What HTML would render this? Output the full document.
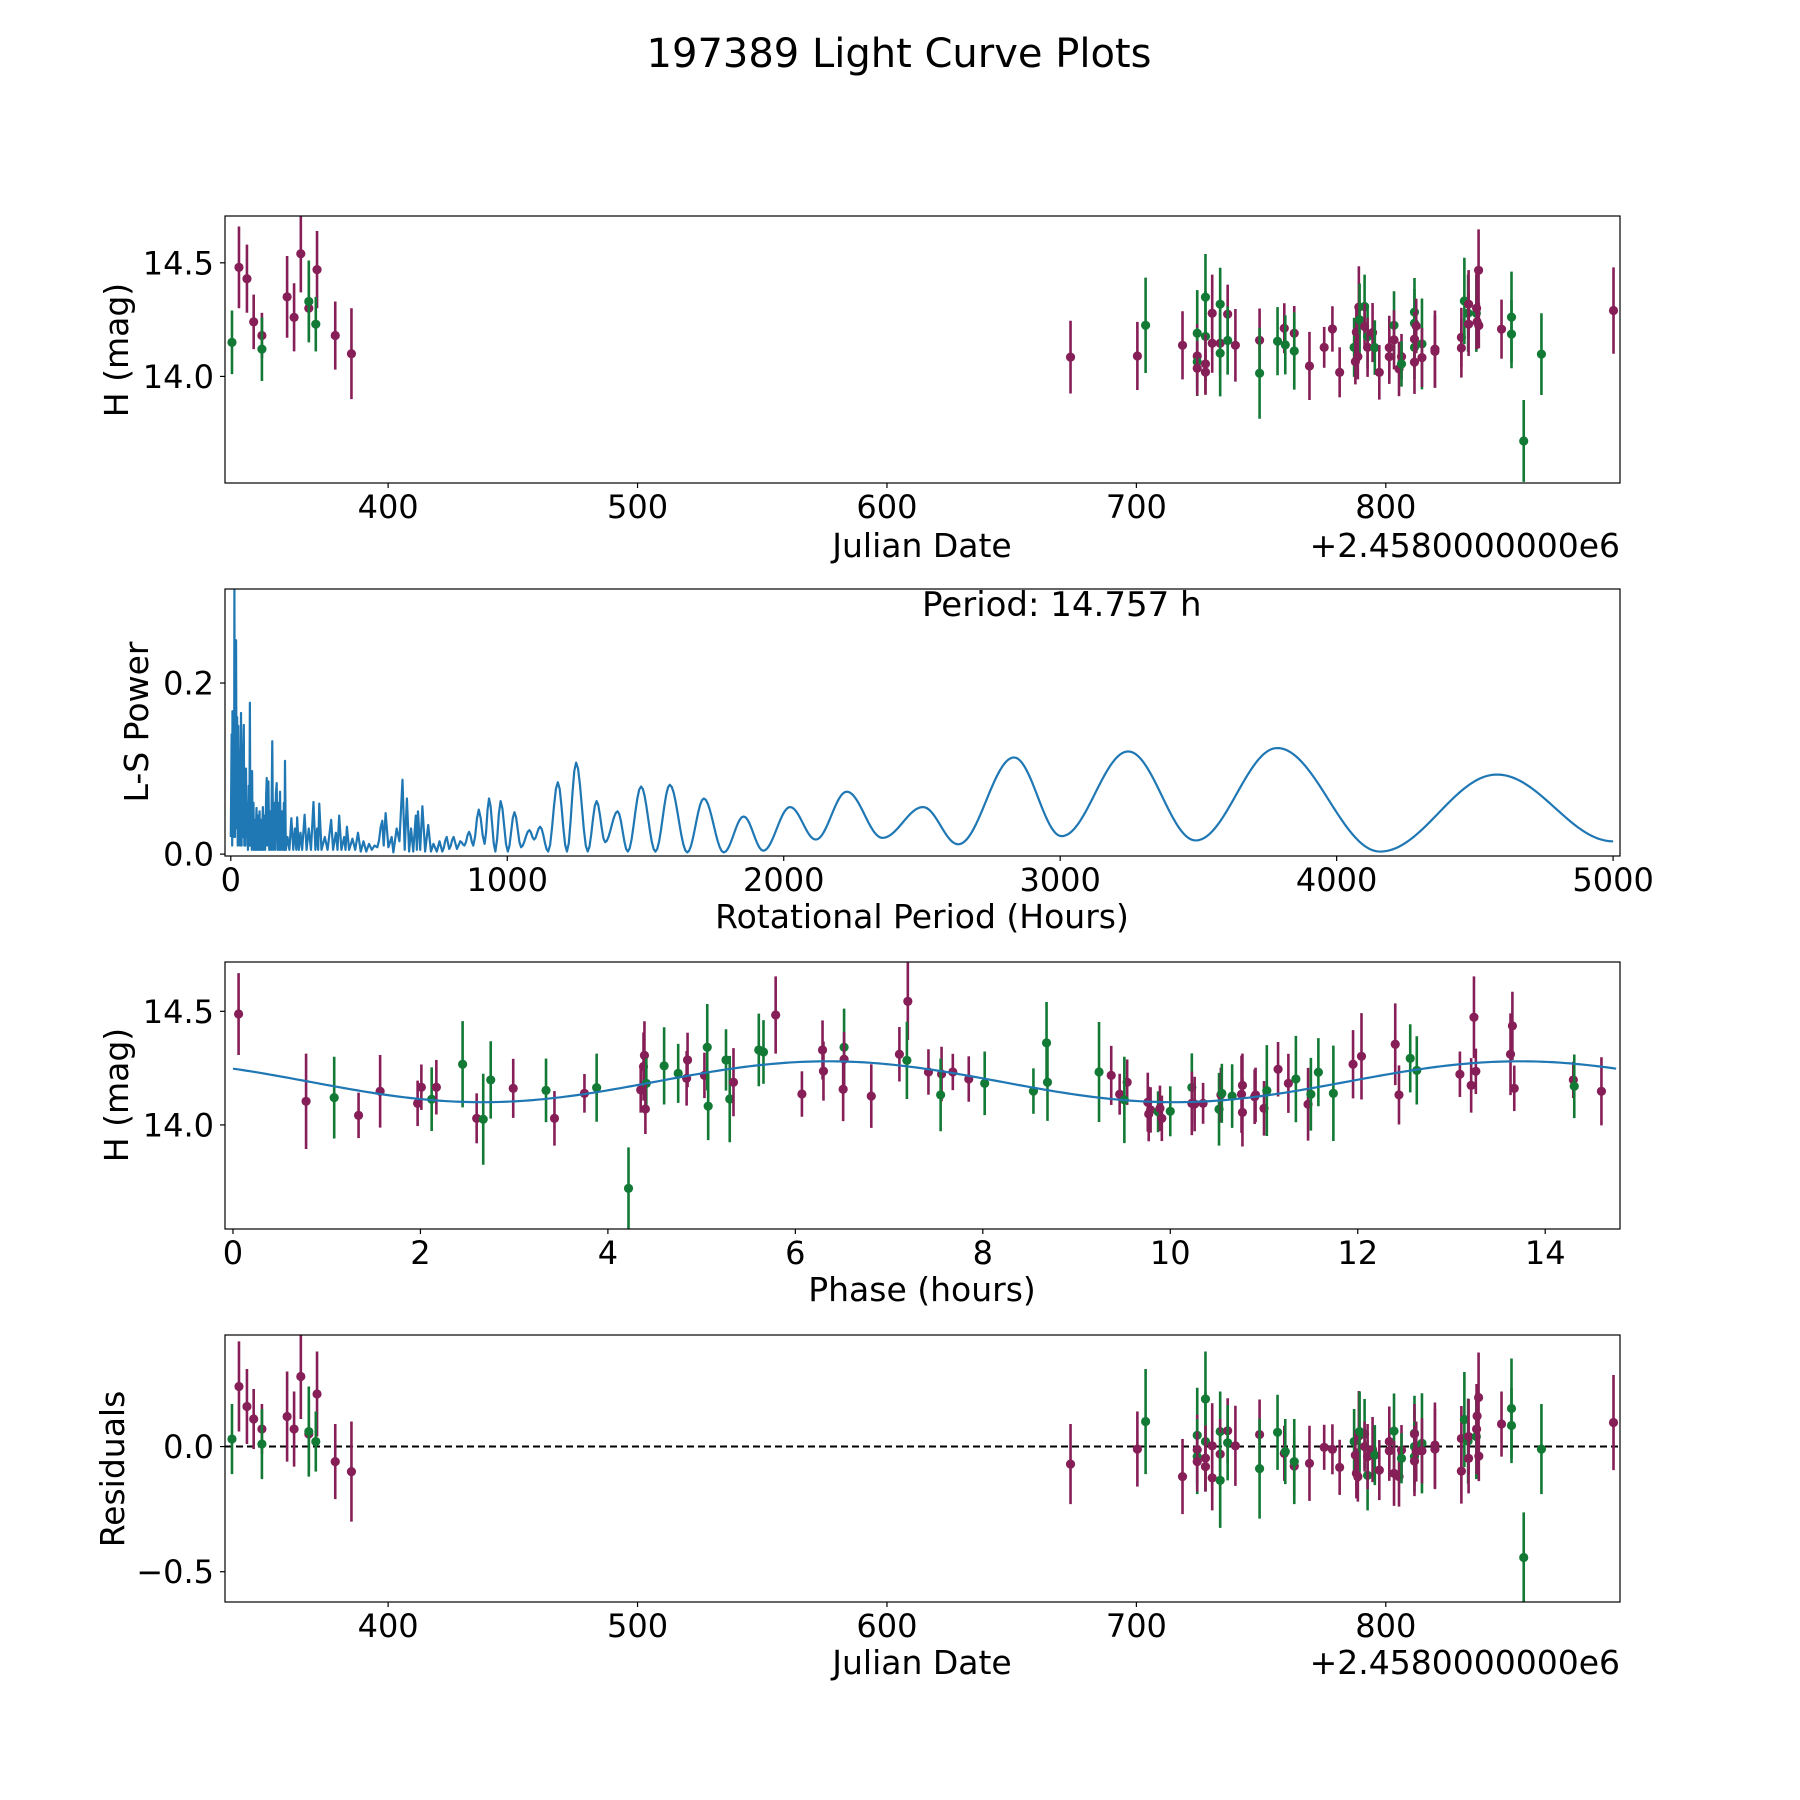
<!DOCTYPE html>
<html><head><meta charset="utf-8"><style>
html,body{margin:0;padding:0;background:#fff;}
svg{display:block;font-family:"DejaVu Sans","Liberation Sans",sans-serif;}
</style></head><body>
<svg id="fig" width="1800" height="1800" viewBox="0 0 1800 1800">
<rect x="0" y="0" width="1800" height="1800" fill="#fff"/>
<text x="899" y="67" font-size="40" text-anchor="middle">197389 Light Curve Plots</text>
<text x="922" y="557" font-size="33" text-anchor="middle">Julian Date</text>
<text x="1620" y="557" font-size="33" text-anchor="end">+2.4580000000e6</text>
<text transform="translate(128,350) rotate(-90)" font-size="33" text-anchor="middle">H (mag)</text>
<text x="922" y="928" font-size="33" text-anchor="middle">Rotational Period (Hours)</text>
<text transform="translate(148,722) rotate(-90)" font-size="33" text-anchor="middle">L-S Power</text>
<text x="922" y="616" font-size="34">Period: 14.757 h</text>
<text x="922" y="1301" font-size="33" text-anchor="middle">Phase (hours)</text>
<text transform="translate(128,1095) rotate(-90)" font-size="33" text-anchor="middle">H (mag)</text>
<text x="922" y="1674" font-size="33" text-anchor="middle">Julian Date</text>
<text x="1620" y="1674" font-size="33" text-anchor="end">+2.4580000000e6</text>
<text transform="translate(124,1469) rotate(-90)" font-size="33" text-anchor="middle">Residuals</text>
</svg>
<script>
// ---- Light curve data (JD - 2458000), magnitude, error, source (0 magenta, 1 green), residual ----
const jd = [337.4,340.2,343.4,346.1,349.4,349.4,359.5,362.3,365.0,368.2,368.2,371.5,371.0,378.8,385.3,
673.6,700.4,703.7,718.5,724.4,724.4,724.4,724.4,727.7,727.7,727.7,727.7,730.4,730.4,733.6,733.6,733.6,736.6,736.6,739.7,
749.4,749.4,756.6,759.3,759.7,763.3,763.3,769.4,775.3,778.6,781.5,787.3,787.8,788.2,789.2,789.5,791.5,791.5,788.8,792.7,792.7,
794.7,795.6,797.4,801.4,801.4,803.3,803.3,805.3,806.3,806.3,811.5,811.5,811.5,811.5,811.5,812.2,814.5,814.5,819.7,819.7,
830.3,830.3,831.5,833.0,833.2,833.2,836.3,836.4,836.6,837.2,837.3,846.4,850.4,850.4,855.3,862.4,891.3];
const mag = [14.15,14.48,14.43,14.24,14.18,14.12,14.35,14.26,14.54,14.30,14.33,14.47,14.23,14.18,14.10,
14.085,14.09,14.225,14.137,14.19,14.09,14.064,14.036,14.349,14.176,14.055,14.019,14.278,14.146,14.318,14.146,14.102,14.274,14.158,14.137,
14.159,14.014,14.155,14.212,14.139,14.19,14.112,14.046,14.128,14.209,14.018,14.128,14.065,14.195,14.305,14.249,14.308,14.22,14.087,14.175,14.128,
14.193,14.127,14.018,14.127,14.087,14.225,14.161,14.033,14.087,14.055,14.283,14.234,14.164,14.128,14.063,14.222,14.143,14.083,14.12,14.11,
14.172,14.125,14.332,14.278,14.318,14.23,14.278,14.30,14.24,14.467,14.224,14.208,14.261,14.186,13.716,14.098,14.29];
const magErr = [.14,.18,.15,.12,.10,.14,.18,.15,.17,.14,.18,.17,.12,.15,.20,
.16,.15,.21,.15,.19,.14,.15,.12,.19,.2,.13,.10,.17,.13,.16,.14,.19,.13,.15,.16,
.14,.2,.15,.11,.13,.12,.17,.15,.09,.1,.11,.13,.1,.1,.18,.16,.14,.1,.1,.14,.13,
.13,.12,.12,.14,.12,.15,.13,.12,.1,.1,.15,.15,.12,.14,.14,.12,.2,.13,.17,.16,
.13,.13,.19,.17,.15,.14,.17,.18,.12,.18,.1,.13,.2,.15,.18,.18,.19];
const source = [1,0,0,0,0,1,0,0,0,0,1,0,1,0,0,
0,0,1,0,1,0,1,0,1,1,0,0,0,0,1,0,1,0,1,0,
0,1,1,0,1,0,1,0,0,0,0,1,0,0,0,1,1,0,0,1,0,
0,1,0,0,0,1,0,0,0,1,1,1,0,1,0,0,1,0,0,0,
0,0,1,1,0,0,1,0,0,0,0,0,1,1,1,1,0];
const resid = [.03,.24,.16,.11,.07,.01,.12,.07,.28,.05,.06,.21,.02,-.06,-.10,
-.07,-.01,.10,-.12,.045,-.013,-.04,-.06,.19,.02,-.046,-.08,.003,-.125,.06,-.03,-.135,.063,.015,.003,
.048,-.088,.057,-.027,-.02,-.078,-.06,-.067,-.003,-.011,-.083,.02,-.034,-.107,.042,.06,.05,0,-.12,-.115,-.04,
-.012,-.034,-.094,.02,-.017,.062,-.107,-.12,-.014,-.047,.053,0,.05,-.04,-.058,-.02,.013,-.017,.006,-.01,
.032,-.098,.108,.022,.04,-.047,.04,.07,.122,.196,-.038,.09,.152,.084,-.443,-.01,.096];

// ---- Phase-folded data ----
const phase = [0.06,0.78,1.08,1.34,1.57,1.97,2.01,2.12,2.17,2.45,2.60,2.67,2.75,2.99,3.34,3.43,3.75,3.88,4.22,4.35,4.38,4.39,4.41,4.40,
4.60,4.75,4.85,4.84,5.03,5.06,5.07,5.26,5.30,5.34,5.61,5.66,5.79,6.07,6.29,6.30,6.52,6.52,6.51,6.81,7.11,7.20,7.19,
7.42,7.56,7.55,7.68,7.85,8.02,8.54,8.68,8.69,9.24,9.37,9.46,9.54,9.51,9.76,9.77,9.79,9.87,9.89,9.91,10.00,10.23,10.23,10.26,10.35,
10.52,10.54,10.55,10.66,10.77,10.76,10.77,10.90,10.91,11.00,11.03,11.15,11.26,11.34,11.47,11.50,11.58,11.74,11.95,12.04,12.40,12.44,
12.56,12.63,13.09,13.21,13.24,13.26,13.63,13.65,13.67,14.30,14.31,14.60];
const phaseMag = [14.488,14.104,14.12,14.042,14.148,14.095,14.166,14.113,14.166,14.267,14.029,14.025,14.198,14.161,14.152,14.029,14.139,14.164,13.721,14.154,14.257,14.306,14.183,14.07,
14.26,14.227,14.286,14.205,14.218,14.342,14.083,14.286,14.114,14.188,14.33,14.321,14.484,14.136,14.33,14.237,14.342,14.289,14.157,14.127,14.311,14.544,14.284,
14.233,14.224,14.132,14.233,14.202,14.183,14.149,14.361,14.188,14.233,14.218,14.135,14.188,14.11,14.1,14.048,14.066,14.058,14.073,14.029,14.06,14.165,14.095,14.092,14.095,
14.069,14.132,14.139,14.127,14.174,14.135,14.055,14.124,14.132,14.073,14.151,14.245,14.183,14.202,14.091,14.135,14.232,14.139,14.267,14.302,14.355,14.132,
14.293,14.24,14.223,14.174,14.474,14.236,14.311,14.436,14.161,14.198,14.17,14.148];
const phaseErr = [.18,.21,.18,.1,.16,.1,.1,.14,.12,.19,.11,.2,.17,.13,.14,.12,.085,.15,.18,.1,.15,.15,.11,.11,
.17,.13,.12,.12,.1,.19,.15,.135,.19,.15,.16,.14,.17,.1,.13,.13,.17,.12,.14,.14,.12,.17,.17,
.1,.12,.16,.08,.1,.14,.1,.18,.17,.22,.13,.09,.1,.19,.13,.12,.1,.09,.1,.1,.11,.15,.14,.12,.09,
.16,.12,.13,.14,.14,.17,.15,.12,.12,.12,.2,.12,.13,.19,.16,.16,.15,.21,.15,.19,.18,.13,
.15,.15,.1,.12,.18,.1,.18,.15,.1,.08,.14,.15];
const phaseSource = [0,0,1,0,0,0,0,1,0,1,0,1,1,0,1,0,0,1,1,0,0,0,1,0,
1,1,0,0,0,1,1,1,1,0,1,1,0,0,0,0,1,0,0,0,0,0,1,
0,0,1,0,0,1,1,1,1,1,0,0,0,1,0,0,0,1,0,0,1,1,0,0,0,
1,0,1,1,0,0,0,0,0,0,1,0,0,1,0,1,1,1,0,0,0,0,
1,1,0,0,0,0,0,0,0,0,1,0];
// fitted model: two-peaked sinusoid
const fitPeriod = 14.757;
const fitMean = 14.19;
const fitAmp = 0.09;
const fitPeakPhase = 6.35;

// ---- Lomb-Scargle periodogram (local extrema) ----
const lsPeriod = [0,3,5,6,8,10,12,13,15,17,19,21,23,25,27,29,31,33,35,37,39,41,43,45,47,49,51,53,55,57,60,62,65,67,69,71,74,76,77,79,82,84,87,89,93,95,98,100,104,106,110,112,116,118,122,124,128,130,132,136,139,143,146,150,153,157,160,163,166,169,172,175,178,181,185,188,192,194,196,199,
205,212,219,226,232,237,240,246,252,258,267,274,282,290,299,306,312,316,320,328,340,350,363,370,380,386,392,400,410,415,420,428,440,450,460,470,480,490,500,510,520,530,548,553,560,570,582,588,600,610,621,629,637,645,652,660,669,673,677,685,693,703,714,724,733,745,755,765,781,790,806,818,830,845,862,877,897,918,934,957,976,1002,1026,1050,1080,1097,1119,1148,1183,1216,1249,1291,1323,1354,1399,1436,1484,1536,1588,1651,1711,1783,1855,1926,2023,2116,2228,2357,2504,2631,2833,3005,3246,3490,3785,4157,4580,5000];
const lsPower = [0.02,0.14,0.01,0.167,0.02,0.15,0.05,0.31,0.02,0.2,0.25,0.03,0.16,0.01,0.15,0.02,0.12,0.01,0.1,0.165,0.01,0.09,0.02,0.12,0.151,0.01,0.07,0.01,0.1,0.02,0.06,0.005,0.08,0.01,0.177,0.01,0.05,0.005,0.097,0.01,0.06,0.005,0.04,0.005,0.054,0.005,0.045,0.005,0.05,0.005,0.04,0.005,0.055,0.005,0.045,0.005,0.07,0.089,0.01,0.085,0.005,0.05,0.005,0.132,0.005,0.06,0.005,0.07,0.083,0.005,0.06,0.005,0.073,0.005,0.05,0.005,0.06,0.005,0.109,0.005,
0.02,0.005,0.042,0.005,0.03,0.005,0.043,0.005,0.025,0.005,0.046,0.005,0.03,0.005,0.061,0.005,0.03,0.005,0.059,0.005,0.02,0.005,0.04,0.005,0.025,0.005,0.045,0.005,0.02,0.005,0.032,0.005,0.018,0.005,0.025,0.003,0.015,0.003,0.012,0.005,0.01,0.008,0.039,0.01,0.048,0.008,0.02,0.002,0.03,0.015,0.087,0.005,0.065,0.003,0.03,0.003,0.045,0.005,0.05,0.005,0.056,0.003,0.034,0.003,0.012,0.003,0.015,0.003,0.02,0.006,0.02,0.006,0.015,0.01,0.026,0.01,0.052,0.012,0.065,0.003,0.062,0.003,0.049,0.008,0.028,0.017,0.032,0.003,0.084,0.003,0.107,0.003,0.062,0.014,0.05,0.003,0.079,0.003,0.081,0.002,0.065,0.002,0.044,0.004,0.055,0.017,0.073,0.019,0.055,0.0115,0.113,0.021,0.12,0.016,0.124,0.003,0.093,0.015];

// ---- tick labels ----
const jdTicks = [400,500,600,700,800];
const magTicks = [14.0,14.5];
const magTickLabels = ["14.0","14.5"];
const lsXTicks = [0,1000,2000,3000,4000,5000];
const lsYTicks = [0.0,0.2];
const lsYTickLabels = ["0.0","0.2"];
const phaseTicks = [0,2,4,6,8,10,12,14];
const residTicks = [-0.5,0.0];
const residTickLabels = ["\u22120.5","0.0"];

const NS = "http://www.w3.org/2000/svg";
const svg = document.getElementById('fig');
const C_M = "#861e57", C_G = "#127a35", C_LINE = "#1f77b4";
function mk(tag, attrs, parent) {
  const e = document.createElementNS(NS, tag);
  for (const k in attrs) e.setAttribute(k, attrs[k]);
  (parent || svg).appendChild(e);
  return e;
}
function panel(id, top, xlim, ylim) {
  const L = 225, W = 1395, H = 267;
  const p = {L, T: top, W, H, xlim, ylim};
  p.sx = v => L + (v - xlim[0]) / (xlim[1] - xlim[0]) * W;
  p.sy = v => top + H - (v - ylim[0]) / (ylim[1] - ylim[0]) * H;
  const cp = mk('clipPath', {id: 'clip-' + id});
  mk('rect', {x: L, y: top, width: W, height: H}, cp);
  p.g = mk('g', {'clip-path': 'url(#clip-' + id + ')'});
  
  
  return p;
}
function frame(p, id) {
  const r = mk('rect', {x: p.L, y: p.T, width: p.W, height: p.H, fill: 'none', stroke: '#000', 'stroke-width': 1.2});
  
  
}
function xTicks(p, id, vals, labels) {
  vals.forEach((v, i) => {
    const x = p.sx(v);
    const t = mk('line', {x1: x, x2: x, y1: p.T + p.H, y2: p.T + p.H + 5, stroke: '#000', 'stroke-width': 1.2});
    
    
    const tx = mk('text', {x: x, y: p.T + p.H + 35, 'font-size': 32, 'text-anchor': 'middle'});
    tx.textContent = labels ? labels[i] : String(v);
    
    
  });
}
function yTicks(p, id, vals, labels) {
  vals.forEach((v, i) => {
    const y = p.sy(v);
    const t = mk('line', {x1: p.L - 5, x2: p.L, y1: y, y2: y, stroke: '#000', 'stroke-width': 1.2});
    
    
    const tx = mk('text', {x: p.L - 11, y: y + 11.5, 'font-size': 32, 'text-anchor': 'end'});
    tx.textContent = labels[i];
    
    
  });
}
function errPoint(p, id, x, y, e, src) {
  const col = src ? C_G : C_M;
  const g = mk('g', {}, p.g);
  
  
  mk('line', {x1: p.sx(x), x2: p.sx(x), y1: p.sy(y - e), y2: p.sy(y + e), stroke: col, 'stroke-width': 2.6}, g);
  mk('circle', {cx: p.sx(x), cy: p.sy(y), r: 4.6, fill: col}, g);
}

// Panel 1: light curve
const p1 = panel('light-curve', 216, [334.6, 893.9], [13.531, 14.706]);
jd.forEach((d, i) => errPoint(p1, 'light-curve', d, mag[i], magErr[i], source[i]));
frame(p1, 'light-curve');
xTicks(p1, 'light-curve', jdTicks);
yTicks(p1, 'light-curve', magTicks, magTickLabels);

// Panel 2: periodogram
const p2 = panel('periodogram', 589, [-21, 5025], [-0.0022, 0.3099]);
let d = '';
for (let i = 0; i < lsPeriod.length; i++) {
  if (i === 0) { d += 'M' + p2.sx(lsPeriod[0]).toFixed(2) + ',' + p2.sy(lsPower[0]).toFixed(2); continue; }
  const x0 = lsPeriod[i - 1], x1 = lsPeriod[i], y0 = lsPower[i - 1], y1 = lsPower[i];
  const n = Math.max(2, Math.ceil((p2.sx(x1) - p2.sx(x0)) / 2));
  for (let k = 1; k <= n; k++) {
    const t = k / n;
    const yy = y0 + (y1 - y0) * (1 - Math.cos(Math.PI * t)) / 2;
    d += 'L' + p2.sx(x0 + (x1 - x0) * t).toFixed(2) + ',' + p2.sy(yy).toFixed(2);
  }
}
const lsLine = mk('path', {d: d, fill: 'none', stroke: C_LINE, 'stroke-width': 2.2, 'stroke-linejoin': 'round'}, p2.g);


frame(p2, 'periodogram');
xTicks(p2, 'periodogram', lsXTicks);
yTicks(p2, 'periodogram', lsYTicks, lsYTickLabels);

// Panel 3: phase folded
const p3 = panel('phase-curve', 962, [-0.085, 14.798], [13.542, 14.717]);
phase.forEach((ph, i) => errPoint(p3, 'phase-curve', ph, phaseMag[i], phaseErr[i], phaseSource[i]));
let md = '';
for (let k = 0; k <= 300; k++) {
  const ph = k / 300 * 14.757;
  const m = fitMean + fitAmp * Math.cos(4 * Math.PI * (ph - fitPeakPhase) / fitPeriod);
  md += (k ? 'L' : 'M') + p3.sx(ph).toFixed(2) + ',' + p3.sy(m).toFixed(2);
}
const fitLine = mk('path', {d: md, fill: 'none', stroke: C_LINE, 'stroke-width': 2.2}, p3.g);


frame(p3, 'phase-curve');
xTicks(p3, 'phase-curve', phaseTicks);
yTicks(p3, 'phase-curve', magTicks, magTickLabels);

// Panel 4: residuals
const p4 = panel('residuals', 1335, [334.6, 893.9], [-0.621, 0.4457]);
const zl = mk('line', {x1: p4.L, x2: p4.L + p4.W, y1: p4.sy(0), y2: p4.sy(0), stroke: '#000', 'stroke-width': 2, 'stroke-dasharray': '7,4'}, p4.g);


jd.forEach((dd, i) => errPoint(p4, 'residuals', dd, resid[i], magErr[i], source[i]));
frame(p4, 'residuals');
xTicks(p4, 'residuals', jdTicks);
yTicks(p4, 'residuals', residTicks, residTickLabels);
</script>
</body></html>
